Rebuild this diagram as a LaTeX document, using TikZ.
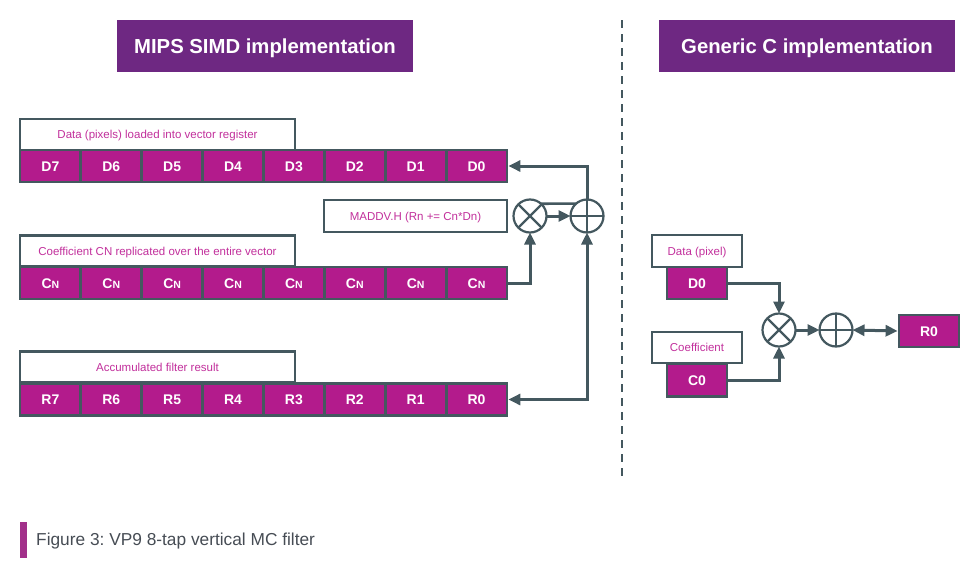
\documentclass[tikz,border=0pt]{standalone}
\usepackage{fontspec}
\setmainfont{Liberation Sans}
\usetikzlibrary{arrows.meta}
\definecolor{titlepurple}{HTML}{6E2882}
\definecolor{cellmag}{HTML}{B31B8C}
\definecolor{labmag}{HTML}{C2309C}
\definecolor{outl}{HTML}{44585F}
\definecolor{capgray}{HTML}{464C54}
\definecolor{capbar}{HTML}{A2308A}
\tikzset{
  titlebox/.style={fill=titlepurple, text=white, minimum width=296pt, minimum height=52pt, inner sep=0pt,
    text height=14.6pt, text depth=0pt, font=\fontsize{20.3}{24}\selectfont\bfseries},
  cellbox/.style={fill=cellmag, draw=outl, line width=2.8pt, text=white, minimum width=60.875pt,
    minimum height=32pt, inner sep=0pt, text height=10pt, text depth=0pt,
    font=\fontsize{14}{16}\selectfont\bfseries},
  labbox/.style={fill=white, draw=outl, line width=2.6pt, text=labmag, inner sep=0pt,
    minimum height=31pt, text height=8.2pt, text depth=0pt, font=\fontsize{11.5}{13}\selectfont},
  opcirc/.style={circle, draw=outl, line width=2.2pt, minimum size=33pt, inner sep=0pt, outer sep=0pt},
  conn/.style={draw=outl, line width=3pt},
  arr/.style={conn, -{Triangle[length=12pt,width=11pt]}},
  biarr/.style={conn, {Triangle[length=12pt,width=11pt]}-{Triangle[length=12pt,width=11pt]}},
  sym/.style={draw=outl, line width=2.2pt}
}
\newcommand{\cnlab}{C{\fontsize{10.5}{12}\selectfont N}}
\begin{document}
\frenchspacing
\begin{tikzpicture}[x=1pt,y=-1pt]
\path[use as bounding box] (0,0) rectangle (975,573);

% titles
\node[titlebox] (t1) at (265,46) {MIPS SIMD implementation};
\node[titlebox] (t2) at (807,46) {Generic C implementation};

% divider
\coordinate (dtop) at (622,20);
\coordinate (dbot) at (622,480);
\draw[outl, line width=2.6pt, dash pattern=on 8pt off 6pt] (dtop) -- (dbot);

% left side labels
\node[labbox, minimum width=275pt] (lab1) at (157.5,134.5) {Data (pixels) loaded into vector register};
\node[labbox, minimum width=275pt] (lab2) at (157.5,251) {Coefficient CN replicated over the entire vector};
\node[labbox, minimum width=275pt] (lab3) at (157.5,367) {Accumulated filter result};

% rows
\foreach \lab [count=\i from 0] in {D7,D6,D5,D4,D3,D2,D1,D0}
  \node[cellbox] (D-\i) at ({20+60.875*(\i+0.5)},166) {\lab};
\foreach \i in {0,...,7}
  \node[cellbox] (C-\i) at ({20+60.875*(\i+0.5)},283) {\cnlab};
\foreach \lab [count=\i from 0] in {R7,R6,R5,R4,R3,R2,R1,R0}
  \node[cellbox] (R-\i) at ({20+60.875*(\i+0.5)},399.5) {\lab};

% MADDV box
\node[labbox, minimum width=183pt, minimum height=32pt] (madd) at (415.5,216) {MADDV.H (Rn += Cn*Dn)};

% operators left
\node[opcirc] (mul) at (530,216) {};
\draw[sym] (mul.45) -- (mul.225) (mul.135) -- (mul.315);
\node[opcirc] (add) at (587,216) {};
\draw[sym] (add.north) -- (add.south) (add.east) -- (add.west);

% connectors left
\draw[arr] (add.north) |- (D-7.east);
\draw[arr] (C-7.east) -| (mul.south);
\draw[arr] (mul.east) -- (add.west);
\draw[conn, line width=2.6pt] (mul.48.6) -- (add.131.4);
\draw[biarr] (R-7.east) -| (add.south);

% right side
\node[labbox, minimum width=90pt, minimum height=32pt] (labd) at (697,251) {Data (pixel)};
\node[cellbox, minimum width=60pt] (rd0) at (697,283) {D0};
\node[labbox, minimum width=90pt, minimum height=31pt] (labc) at (697,347.5) {Coefficient};
\node[cellbox, minimum width=60pt, minimum height=33pt] (rc0) at (697,380) {C0};
\node[cellbox, minimum width=60pt] (rr0) at (929,331) {R0};

\node[opcirc] (mul2) at (779,330) {};
\draw[sym] (mul2.45) -- (mul2.225) (mul2.135) -- (mul2.315);
\node[opcirc] (add2) at (836,330) {};
\draw[sym] (add2.north) -- (add2.south) (add2.east) -- (add2.west);

\draw[arr] (rd0.east) -| (mul2.north);
\draw[arr] (rc0.east) -| (mul2.south);
\draw[arr] (mul2.east) -- (add2.west);
\draw[biarr] (add2.east) -- (rr0.west);

% caption
\node[fill=capbar, minimum width=7pt, minimum height=36pt, inner sep=0pt] (cbar) at (23.5,540) {};
\node[anchor=west, text=capgray, font=\fontsize{17.3}{20}\selectfont, inner sep=0pt] (cap) at (36,541) {Figure 3: VP9 8-tap vertical MC filter};
\end{tikzpicture}
\end{document}
